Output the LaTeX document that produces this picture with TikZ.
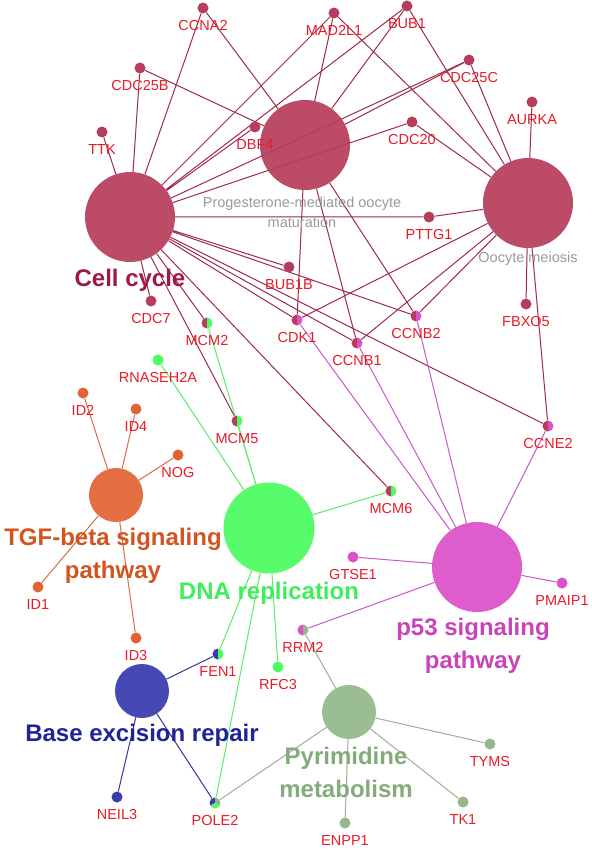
\documentclass[tikz,border=0pt]{standalone}
\usepackage{fontspec}
\setmainfont{Liberation Sans}
\usepackage{tikz}
\usetikzlibrary{backgrounds}

\definecolor{cchub}{RGB}{182,62,92}
\definecolor{ccline}{RGB}{158,42,80}
\definecolor{cctext}{RGB}{158,26,66}
\definecolor{tgfhub}{RGB}{226,100,52}
\definecolor{tgfline}{RGB}{214,110,70}
\definecolor{tgftext}{RGB}{212,84,32}
\definecolor{dnahub}{RGB}{76,252,96}
\definecolor{dnaline}{RGB}{90,236,100}
\definecolor{dnatext}{RGB}{62,238,92}
\definecolor{p53hub}{RGB}{220,80,200}
\definecolor{p53line}{RGB}{200,90,200}
\definecolor{p53text}{RGB}{200,68,186}
\definecolor{berhub}{RGB}{56,60,174}
\definecolor{berline}{RGB}{50,54,150}
\definecolor{bertext}{RGB}{32,36,150}
\definecolor{pyrhub}{RGB}{148,184,138}
\definecolor{pyrline}{RGB}{160,175,150}
\definecolor{pyrtext}{RGB}{132,172,122}
\definecolor{genered}{RGB}{232,28,40}
\definecolor{termgray}{RGB}{155,155,155}

% two-coloured gene dot: node, left colour, right colour
\newcommand{\splitdot}[3]{%
  \begin{scope}
    \clip (#1.center) ++(-6pt,-6pt) rectangle ++(6pt,12pt);
    \fill[#2] (#1.center) circle[radius=5.5pt];
  \end{scope}
  \begin{scope}
    \clip (#1.center) ++(0pt,-6pt) rectangle ++(6pt,12pt);
    \fill[#3] (#1.center) circle[radius=5.5pt];
  \end{scope}}

\begin{document}
\begin{tikzpicture}[
    x=1pt, y=-1pt,
    hub/.style={circle, inner sep=0pt, fill opacity=0.93},
    gene/.style={circle, inner sep=0pt, minimum size=11pt},
    genelbl/.style={font=\fontsize{14.5}{14.5}\selectfont, text=genered, inner sep=1pt, label distance=5.5pt},
    termlbl/.style={font=\fontsize{24}{33}\selectfont\bfseries, align=center},
    edge/.style={line width=1pt}
]
\useasboundingbox (0,0) rectangle (591,850);

% Term hubs
\node[hub, fill=cchub, minimum size=90pt] (cc) at (130,217) {};
\node[hub, fill=cchub, minimum size=90pt] (pm) at (305,145) {};
\node[hub, fill=cchub, minimum size=90pt] (om) at (528,203) {};
\node[hub, fill=dnahub, minimum size=91pt] (dna) at (269,528) {};
\node[hub, fill=p53hub, minimum size=90pt] (p53) at (477,567) {};
\node[hub, fill=tgfhub, minimum size=54pt] (tgf) at (116,495) {};
\node[hub, fill=berhub, minimum size=54pt] (ber) at (142,691) {};
\node[hub, fill=pyrhub, minimum size=54pt] (pyr) at (349,712) {};

% Cell cycle genes
\node[gene, fill=cchub, label={[genelbl]below:CCNA2}] (ccna2) at (203,8) {};
\node[gene, fill=cchub, label={[genelbl]below:CDC25B}] (cdcb) at (140,68) {};
\node[gene, fill=cchub, label={[genelbl]below:TTK}] (ttk) at (102,132) {};
\node[gene, fill=cchub, label={[genelbl]below:DBF4}] (dbf4) at (255,127) {};
\node[gene, fill=cchub, label={[genelbl]below:MAD2L1}] (mad2l1) at (334,13) {};
\node[gene, fill=cchub, label={[genelbl]below:BUB1}] (bub1) at (407,6) {};
\node[gene, fill=cchub, label={[genelbl]below:CDC25C}] (cdcc) at (469,60) {};
\node[gene, fill=cchub, label={[genelbl]below:AURKA}] (aurka) at (532,102) {};
\node[gene, fill=cchub, label={[genelbl]below:CDC20}] (cdc20) at (412,122) {};
\node[gene, fill=cchub, label={[genelbl]below:PTTG1}] (pttg1) at (429,217) {};
\node[gene, fill=cchub, label={[genelbl]below:BUB1B}] (bub1b) at (289,267) {};
\node[gene, fill=cchub, label={[genelbl]below:CDC7}] (cdc7) at (151,301) {};
\node[gene, fill=cchub, label={[genelbl]below:FBXO5}] (fbxo5) at (526,304) {};
\node[gene, label={[genelbl]below:CDK1}] (cdk1) at (297,320) {};
\node[gene, label={[genelbl]below:CCNB1}] (ccnb1) at (357,343) {};
\node[gene, label={[genelbl]below:CCNB2}] (ccnb2) at (416,316) {};
\node[gene, label={[genelbl]below:CCNE2}] (ccne2) at (548,426) {};
\node[gene, label={[genelbl]below:MCM2}] (mcm2) at (207,323) {};
\node[gene, label={[genelbl]below:MCM5}] (mcm5) at (237,421) {};
\node[gene, label={[genelbl]below:MCM6}] (mcm6) at (391,491) {};

% DNA replication, TGF-beta, p53, repair and pyrimidine genes
\node[gene, fill=dnahub, label={[genelbl]below:RNASEH2A}] (rnaseh2a) at (158,360) {};
\node[gene, fill=dnahub, label={[genelbl]below:RFC3}] (rfc3) at (278,667) {};
\node[gene, fill=tgfhub, label={[genelbl]below:ID2}] (id2) at (83,393) {};
\node[gene, fill=tgfhub, label={[genelbl]below:ID4}] (id4) at (136,409) {};
\node[gene, fill=tgfhub, label={[genelbl]below:NOG}] (nog) at (178,455) {};
\node[gene, fill=tgfhub, label={[genelbl]below:ID1}] (id1) at (38,587) {};
\node[gene, fill=tgfhub, label={[genelbl]below:ID3}] (id3) at (136,638) {};
\node[gene, fill=p53hub, label={[genelbl]below:GTSE1}] (gtse1) at (353,557) {};
\node[gene, fill=p53hub, label={[genelbl]below:PMAIP1}] (pmaip1) at (562,583) {};
\node[gene, label={[genelbl]below:RRM2}] (rrm2) at (303,630) {};
\node[gene, label={[genelbl]below:FEN1}] (fen1) at (218,654) {};
\node[gene, fill=berhub, label={[genelbl]below:NEIL3}] (neil3) at (117,797) {};
\node[gene, label={[genelbl]below:POLE2}] (pole2) at (215,803) {};
\node[gene, fill=pyrhub, label={[genelbl]below:TYMS}] (tyms) at (490,744) {};
\node[gene, fill=pyrhub, label={[genelbl]below:TK1}] (tk1) at (463,802) {};
\node[gene, fill=pyrhub, label={[genelbl]below:ENPP1}] (enpp1) at (345,823) {};

% Shared genes
\splitdot{cdk1}{cchub}{p53hub}
\splitdot{ccnb1}{cchub}{p53hub}
\splitdot{ccnb2}{cchub}{p53hub}
\splitdot{ccne2}{cchub}{p53hub}
\splitdot{mcm2}{cchub}{dnahub}
\splitdot{mcm5}{cchub}{dnahub}
\splitdot{mcm6}{cchub}{dnahub}
\splitdot{rrm2}{p53hub}{pyrhub}
\splitdot{fen1}{berhub}{dnahub}
\begin{scope}
  \clip (pole2.center) -- ([shift={(90:9pt)}]pole2.center) -- ([shift={(150:12pt)}]pole2.center) -- ([shift={(210:9pt)}]pole2.center) -- cycle;
  \fill[berhub] (pole2.center) circle[radius=5.5pt];
\end{scope}
\begin{scope}
  \clip (pole2.center) -- ([shift={(210:9pt)}]pole2.center) -- ([shift={(270:12pt)}]pole2.center) -- ([shift={(330:9pt)}]pole2.center) -- cycle;
  \fill[dnahub] (pole2.center) circle[radius=5.5pt];
\end{scope}
\begin{scope}
  \clip (pole2.center) -- ([shift={(330:9pt)}]pole2.center) -- ([shift={(30:12pt)}]pole2.center) -- ([shift={(90:9pt)}]pole2.center) -- cycle;
  \fill[pyrhub] (pole2.center) circle[radius=5.5pt];
\end{scope}

% Term labels
\node[termlbl, text=cctext] (cclbl) at (130,280) {Cell cycle};
\node[font=\fontsize{14.5}{20}\selectfont, text=termgray, align=center] (pmlbl) at (302,212) {Progesterone-mediated oocyte\\maturation};
\node[font=\fontsize{14.5}{20}\selectfont, text=termgray] (omlbl) at (528,259) {Oocyte meiosis};
\node[termlbl, text=tgftext] (tgflbl) at (113,556) {TGF-beta signaling\\pathway};
\node[termlbl, text=dnatext] (dnalbl) at (269,593) {DNA replication};
\node[termlbl, text=p53text] (p53lbl) at (473,646) {p53 signaling\\pathway};
\node[termlbl, text=bertext] (berlbl) at (142,735) {Base excision repair};
\node[termlbl, text=pyrtext] (pyrlbl) at (346,772) {Pyrimidine\\metabolism};

% Connectors
\begin{scope}[on background layer]
\fill[white] (0,0) rectangle (591,850);
\draw[edge, ccline] (cc) -- (ttk) (cc) -- (cdcb) (cc) -- (ccna2) (cc) -- (dbf4)
    (cc) -- (mad2l1) (cc) -- (bub1) (cc) -- (cdcc) (cc) -- (cdc20) (cc) -- (pttg1)
    (cc) -- (bub1b) (cc) -- (ccnb2) (cc) -- (ccne2) (cc) -- (cdk1) (cc) -- (ccnb1)
    (cc) -- (mcm6) (cc) -- (mcm5) (cc) -- (mcm2) (cc) -- (cdc7);
\draw[edge, ccline] (pm) -- (ccna2) (pm) -- (cdcb) (pm) -- (mad2l1) (pm) -- (bub1)
    (pm) -- (cdcc) (pm) -- (cdk1) (pm) -- (ccnb1) (pm) -- (ccnb2);
\draw[edge, ccline] (om) -- (mad2l1) (om) -- (bub1) (om) -- (cdcc) (om) -- (cdc20)
    (om) -- (aurka) (om) -- (pttg1) (om) -- (fbxo5) (om) -- (ccne2) (om) -- (cdk1)
    (om) -- (ccnb1) (om) -- (ccnb2);
\draw[edge, p53line] (p53) -- (cdk1) (p53) -- (ccnb1) (p53) -- (ccnb2) (p53) -- (ccne2)
    (p53) -- (gtse1) (p53) -- (pmaip1) (p53) -- (rrm2);
\draw[edge, dnaline] (dna) -- (mcm2) (dna) -- (mcm5) (dna) -- (mcm6) (dna) -- (rnaseh2a)
    (dna) -- (fen1) (dna) -- (rfc3) (dna) -- (pole2);
\draw[edge, tgfline] (tgf) -- (id2) (tgf) -- (id4) (tgf) -- (nog) (tgf) -- (id1) (tgf) -- (id3);
\draw[edge, berline] (ber) -- (fen1) (ber) -- (neil3) (ber) -- (pole2);
\draw[edge, pyrline] (pyr) -- (rrm2) (pyr) -- (pole2) (pyr) -- (tyms) (pyr) -- (tk1) (pyr) -- (enpp1);
\end{scope}

\end{tikzpicture}
\end{document}
